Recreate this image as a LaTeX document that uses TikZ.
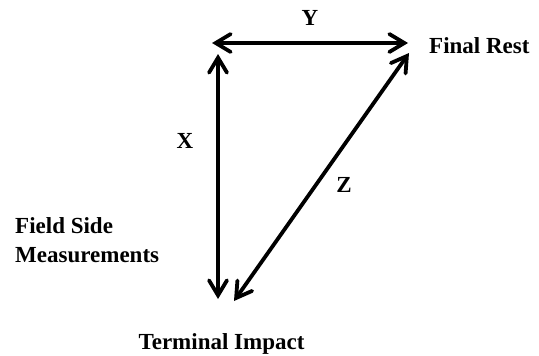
\documentclass[tikz,border=0pt]{standalone}
\usepackage{fontspec}
\setmainfont{Liberation Serif}
\usetikzlibrary{arrows.meta}
\begin{document}
\begin{tikzpicture}[x=1pt,y=-1pt,
  lbl/.style={font=\bfseries\fontsize{23}{29}\selectfont, inner sep=0pt},
  arr/.style={line width=3.8pt, {Straight Barb[length=15pt,width=18pt,line cap=round]}-{Straight Barb[length=15pt,width=18pt,line cap=round]}}]
\useasboundingbox (0,0) rectangle (539,356);
\coordinate (ytl) at (212,43);
\coordinate (ytr) at (408,43);
\coordinate (xt) at (218,54);
\coordinate (xb) at (218,299);
\coordinate (zt) at (409,53);
\coordinate (zb) at (234,301);
\draw[arr] (ytl) -- (ytr);
\draw[arr] (xt) -- (xb);
\draw[arr] (zt) -- (zb);
\node[lbl, anchor=base] (y) at (310,26) {Y};
\node[lbl, anchor=base west] (fr) at (429,53) {Final Rest};
\node[lbl, anchor=base] (x) at (185,148) {X};
\node[lbl, anchor=base] (z) at (344,192) {Z};
\node[lbl, anchor=base west, align=left] (fs) at (15,262) {Field Side\\Measurements};
\node[lbl, anchor=base] (ti) at (221.5,349) {Terminal Impact};
\end{tikzpicture}
\end{document}
